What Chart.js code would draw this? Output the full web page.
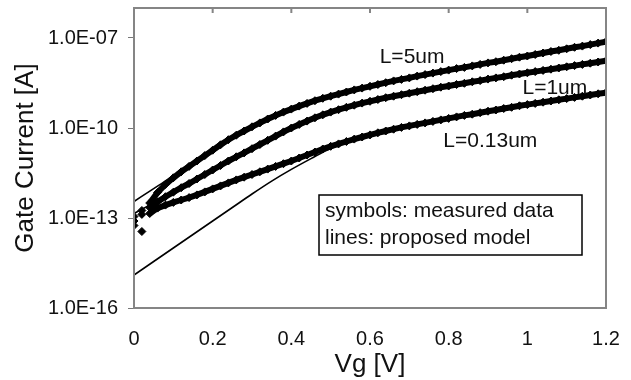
<!DOCTYPE html>
<html>
<head>
<meta charset="utf-8">
<title>Gate Current vs Vg</title>
<script src="https://cdn.jsdelivr.net/npm/chart.js"></script>
<style>
  body { margin: 0; background: #fff; }
  #chart { display: block; }
</style>
</head>
<body>
<canvas id="chart" width="631" height="380"></canvas>
<script>
const vg = [0, 0.02, 0.04, 0.06, 0.08, 0.1, 0.12, 0.14, 0.16, 0.18,
  0.2, 0.22, 0.24, 0.26, 0.28, 0.3, 0.32, 0.34, 0.36, 0.38,
  0.4, 0.42, 0.44, 0.46, 0.48, 0.5, 0.52, 0.54, 0.56, 0.58,
  0.6, 0.62, 0.64, 0.66, 0.68, 0.7, 0.72, 0.74, 0.76, 0.78,
  0.8, 0.82, 0.84, 0.86, 0.88, 0.9, 0.92, 0.94, 0.96, 0.98,
  1, 1.02, 1.04, 1.06, 1.08, 1.1, 1.12, 1.14, 1.16, 1.18, 1.2];
const log5um = [-12.95, -12.75, -12.5, -12.15, -11.88, -11.66, -11.46, -11.28, -11.1, -10.92,
  -10.74, -10.56, -10.39, -10.24, -10.1, -9.96, -9.83, -9.7, -9.58, -9.47,
  -9.37, -9.27, -9.18, -9.09, -9.01, -8.94, -8.87, -8.8, -8.73, -8.67,
  -8.61, -8.55, -8.49, -8.43, -8.38, -8.33, -8.27, -8.22, -8.17, -8.12,
  -8.07, -8.02, -7.98, -7.93, -7.88, -7.83, -7.79, -7.74, -7.69, -7.64,
  -7.6, -7.55, -7.5, -7.45, -7.41, -7.36, -7.31, -7.27, -7.22, -7.17, -7.12];
const log1um = [-13.1, -12.88, -12.65, -12.46, -12.29, -12.14, -11.99, -11.85, -11.7, -11.55,
  -11.4, -11.25, -11.1, -10.96, -10.83, -10.69, -10.55, -10.41, -10.27, -10.13,
  -10.0, -9.88, -9.77, -9.66, -9.56, -9.47, -9.39, -9.31, -9.24, -9.17,
  -9.11, -9.05, -8.99, -8.94, -8.89, -8.84, -8.79, -8.74, -8.69, -8.64,
  -8.6, -8.55, -8.51, -8.46, -8.42, -8.37, -8.33, -8.29, -8.24, -8.2,
  -8.16, -8.12, -8.08, -8.04, -8.0, -7.96, -7.92, -7.88, -7.84, -7.8, -7.76];
const log013um = [-13.25, -13.45, -12.85, -12.67, -12.57, -12.48, -12.4, -12.32, -12.23, -12.13,
  -12.03, -11.93, -11.83, -11.73, -11.64, -11.55, -11.46, -11.37, -11.28, -11.19,
  -11.1, -11.0, -10.9, -10.8, -10.7, -10.61, -10.53, -10.45, -10.37, -10.3,
  -10.23, -10.16, -10.1, -10.04, -9.98, -9.93, -9.88, -9.83, -9.78, -9.73,
  -9.68, -9.63, -9.58, -9.54, -9.49, -9.44, -9.4, -9.35, -9.31, -9.26,
  -9.22, -9.18, -9.14, -9.1, -9.06, -9.02, -8.98, -8.94, -8.9, -8.86, -8.82];

// proposed model curves (log10 A)
const vgModel = [0, 0.05, 0.1, 0.15, 0.2, 0.25, 0.3, 0.35, 0.4, 0.45, 0.5, 0.6, 0.7, 0.8, 0.9, 1.0, 1.1, 1.2];
const model5um = [-12.45, -12.02, -11.6, -11.15, -10.74, -10.33, -9.96, -9.64, -9.37, -9.14, -8.94, -8.61, -8.33, -8.07, -7.83, -7.6, -7.36, -7.12];
const model1um = [-12.85, -12.5, -12.14, -11.78, -11.4, -11.03, -10.69, -10.34, -10.0, -9.71, -9.47, -9.11, -8.84, -8.6, -8.37, -8.16, -7.96, -7.76];
const model013um = [-14.9, -14.45, -14.0, -13.55, -13.1, -12.65, -12.2, -11.77, -11.38, -11.02, -10.68, -10.23, -9.93, -9.68, -9.44, -9.22, -9.02, -8.82];

const xTicks = [0, 0.2, 0.4, 0.6, 0.8, 1, 1.2];
const xTickLabels = ['0', '0.2', '0.4', '0.6', '0.8', '1', '1.2'];
const yTicks = [1e-16, 1e-13, 1e-10, 1e-7];
const yTickLabels = ['1.0E-16', '1.0E-13', '1.0E-10', '1.0E-07'];

const toPoints = (xs, logs) => xs.map((v, i) => ({x: v, y: Math.pow(10, logs[i])}));

Chart.defaults.font.family = '"Liberation Sans", Arial, sans-serif';
Chart.defaults.color = '#111';

// dense symbols: a heavy trace with diamonds on it; the noisy first points stay loose
const symbol = {
  showLine: true,
  borderColor: '#000',
  borderWidth: 6,
  pointStyle: 'rectRot',
  pointRadius: 4,
  backgroundColor: '#000',
  pointBorderWidth: 1,
  segment: {borderColor: c => c.p0DataIndex < 2 ? 'rgba(0,0,0,0)' : undefined}
};
const modelLine = {
  showLine: true,
  borderColor: '#000',
  borderWidth: 1.6,
  pointRadius: 0,
  cubicInterpolationMode: 'monotone'
};

const decor = {
  id: 'decor',
  afterDatasetsDraw(chart) {
    const {ctx, chartArea: a, scales: {x, y}} = chart;
    ctx.save();
    // plot frame
    ctx.strokeStyle = '#858585';
    ctx.lineWidth = 2;
    ctx.strokeRect(a.left, a.top, a.right - a.left, a.bottom - a.top);
    // small inward ticks on the top edge
    ctx.beginPath();
    xTicks.slice(1, -1).forEach(v => {
      const px = x.getPixelForValue(v);
      ctx.moveTo(px, a.top);
      ctx.lineTo(px, a.top + 5);
    });
    ctx.stroke();

    // curve names
    ctx.fillStyle = '#111';
    ctx.font = '21px "Liberation Sans", Arial, sans-serif';
    ctx.textAlign = 'center';
    ctx.textBaseline = 'middle';
    [['L=5um', 0.707, -7.63], ['L=1um', 1.07, -8.67], ['L=0.13um', 0.906, -10.43]].forEach(([t, vx, ly]) => {
      ctx.fillText(t, x.getPixelForValue(vx), y.getPixelForValue(Math.pow(10, ly)));
    });

    // note box
    const bx = a.left + 185, by = a.top + 187;
    ctx.fillStyle = '#fff';
    ctx.fillRect(bx, by, 263, 60);
    ctx.strokeStyle = '#000';
    ctx.lineWidth = 1.5;
    ctx.strokeRect(bx, by, 263, 60);
    ctx.fillStyle = '#111';
    ctx.textAlign = 'left';
    ctx.fillText('symbols: measured data', bx + 6, by + 16);
    ctx.fillText('lines: proposed model', bx + 6, by + 43);
    ctx.restore();
  }
};

new Chart(document.getElementById('chart'), {
  type: 'scatter',
  data: {
    datasets: [
      Object.assign({label: 'L=5um model', data: toPoints(vgModel, model5um)}, modelLine),
      Object.assign({label: 'L=1um model', data: toPoints(vgModel, model1um)}, modelLine),
      Object.assign({label: 'L=0.13um model', data: toPoints(vgModel, model013um)}, modelLine),
      Object.assign({label: 'L=5um', data: toPoints(vg, log5um)}, symbol),
      Object.assign({label: 'L=1um', data: toPoints(vg, log1um)}, symbol),
      Object.assign({label: 'L=0.13um', data: toPoints(vg, log013um)}, symbol)
    ]
  },
  options: {
    responsive: false,
    devicePixelRatio: 1,
    animation: false,
    layout: {padding: {left: 0, right: 25, top: 8, bottom: 0}},
    plugins: {legend: {display: false}, tooltip: {enabled: false}},
    scales: {
      x: {
        type: 'linear',
        min: 0,
        max: 1.2,
        afterBuildTicks: s => { s.ticks = xTicks.map(v => ({value: v})); },
        afterFit: s => { s.height = 72; s.paddingLeft = 0; s.paddingRight = 0; },
        grid: {display: false, drawTicks: false},
        border: {display: false},
        ticks: {
          padding: 19,
          font: {size: 20},
          maxRotation: 0,
          callback: (v, i) => xTickLabels[i]
        },
        title: {display: true, text: 'Vg [V]', font: {size: 26}, padding: {top: 0, bottom: 0}}
      },
      y: {
        type: 'logarithmic',
        min: 1e-16,
        max: 1e-6,
        afterBuildTicks: s => { s.ticks = yTicks.map(v => ({value: v})); },
        afterFit: s => { s.width = 134; s.paddingTop = 0; s.paddingBottom = 0; },
        grid: {drawOnChartArea: false, drawTicks: true, tickLength: 6, color: '#777'},
        border: {display: false},
        ticks: {
          padding: 10,
          font: {size: 20},
          callback: (v, i) => yTickLabels[i]
        },
        title: {display: true, text: 'Gate Current [A]', font: {size: 26}, padding: {top: 10, bottom: 0}}
      }
    }
  },
  plugins: [decor]
});
</script>
</body>
</html>
